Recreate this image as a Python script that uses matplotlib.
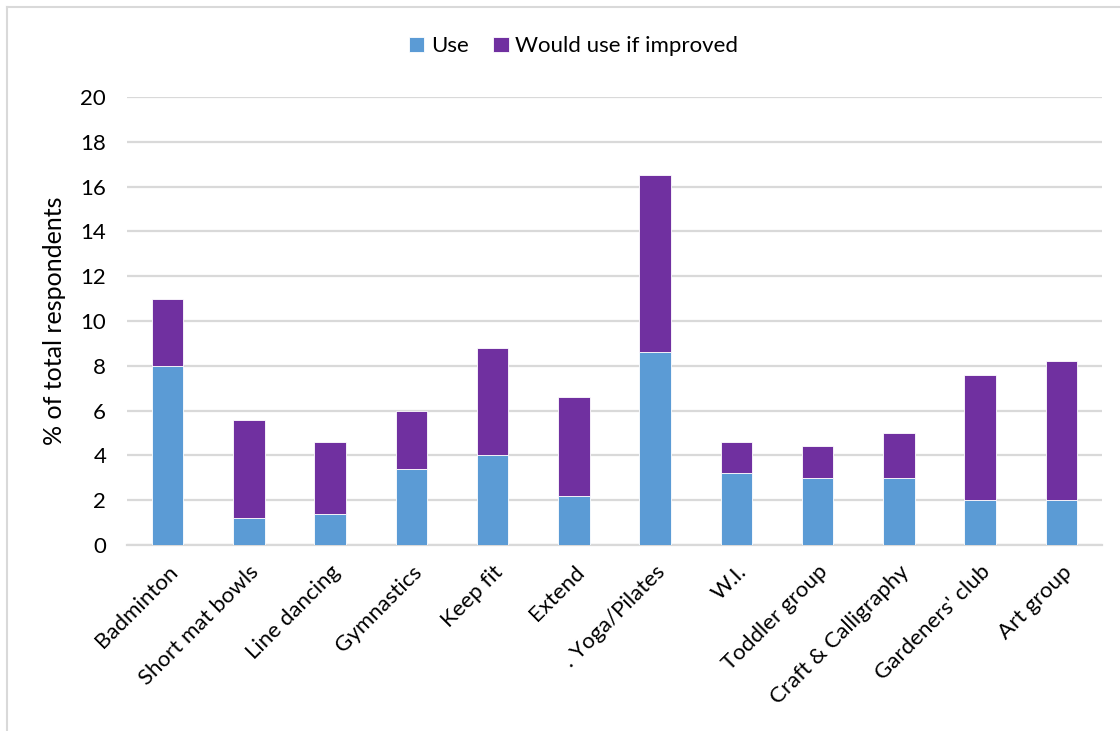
import matplotlib.pyplot as plt
from matplotlib.lines import Line2D
import numpy as np

plt.rcParams['font.family'] = ['Lato', 'DejaVu Sans']

activities = ["Badminton", "Short mat bowls", "Line dancing", "Gymnastics",
              "Keep fit", "Extend", ". Yoga/Pilates", "W.I.", "Toddler group",
              "Craft & Calligraphy", "Gardeners' club", "Art group"]
use = [8.0, 1.2, 1.4, 3.4, 4.0, 2.2, 8.6, 3.2, 3.0, 3.0, 2.0, 2.0]
total = [11.0, 5.6, 4.6, 6.0, 8.8, 6.6, 16.5, 4.6, 4.4, 5.0, 7.6, 8.2]
would_use = [t - u for t, u in zip(total, use)]

blue = "#5B9BD5"
purple = "#7030A0"

fig = plt.figure(figsize=(11.2, 7.31), dpi=100)
ax = fig.add_axes([0.1134, 0.2545, 0.8705, 0.6128])

x = np.arange(len(activities))
ax.bar(x, use, width=0.39, color=blue, edgecolor="white", linewidth=0.6,
       label="Use", zorder=3)
ax.bar(x, would_use, width=0.39, bottom=use, color=purple, edgecolor="white",
       linewidth=0.6, label="Would use if improved", zorder=3)

ax.set_xlim(-0.5, len(activities) - 0.5)
ax.set_ylim(0, 20)
ax.set_yticks(range(0, 21, 2))
ax.yaxis.grid(True, color="#d9d9d9", linewidth=1.6, zorder=0)
ax.set_axisbelow(True)
for s in ["top", "right", "left"]:
    ax.spines[s].set_visible(False)
ax.spines["bottom"].set_color("#d9d9d9")
ax.spines["bottom"].set_linewidth(1.6)
ax.tick_params(axis="both", length=0, labelsize=16, colors="black")
ax.tick_params(axis="y", pad=15)
ax.tick_params(axis="x", pad=12)
ax.set_xticks(x)
ax.set_xticklabels(activities, rotation=45, ha="right", rotation_mode="anchor")
ax.set_ylabel("% of total respondents", fontsize=18, labelpad=10)

fig.legend(loc="upper center", bbox_to_anchor=(0.512, 0.978), ncol=2,
           frameon=False, fontsize=16, handlelength=0.7, handleheight=0.7,
           columnspacing=1.1, handletextpad=0.3)

# chart area border (left and top edges visible)
fig.add_artist(Line2D([7 / 1120, 7 / 1120], [0, 1 - 7 / 731],
                      color="#d9d9d9", linewidth=1.5, transform=fig.transFigure))
fig.add_artist(Line2D([7 / 1120, 1], [1 - 7 / 731, 1 - 7 / 731],
                      color="#d9d9d9", linewidth=1.5, transform=fig.transFigure))

plt.savefig("out.png", dpi=100)
